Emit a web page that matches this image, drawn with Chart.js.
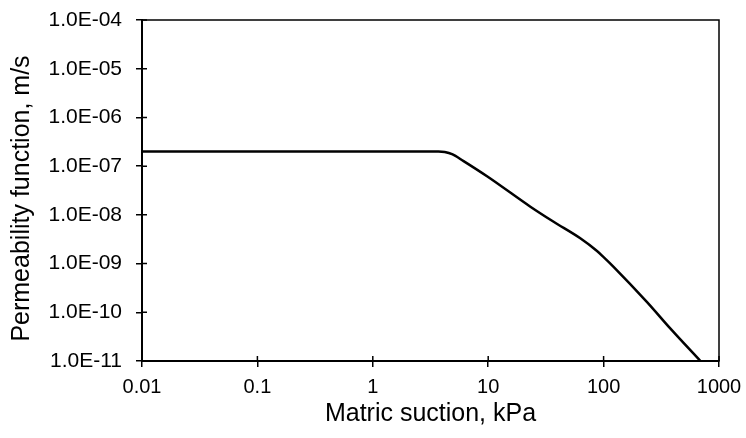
<!DOCTYPE html>
<html>
<head>
<meta charset="utf-8">
<script src="https://cdn.jsdelivr.net/npm/chart.js@4"></script>
<style>
  html, body { margin: 0; padding: 0; background: #fff; }
  #wrap { width: 746px; height: 438px; }
</style>
</head>
<body>
<div id="wrap"><canvas id="chart" width="746" height="438"></canvas></div>
<script>
// values
var suction = [0.01, 1, 3, 3.7, 4.2, 4.86, 6.12, 9.77, 23.2, 36.9, 62.8, 87.7, 100, 122, 238, 378, 690];
var permeability = [2.0e-7, 2.0e-7, 2.0e-7, 2.0e-7, 1.95e-7, 1.77e-7, 1.27e-7, 6.2e-8, 1.47e-8, 7.2e-9, 3.3e-9, 1.81e-9, 1.36e-9, 8.6e-10, 1.62e-10, 4.67e-11, 1.0e-11];

var xTicks = [0.01, 0.1, 1, 10, 100, 1000];
var xTickLabels = ['0.01', '0.1', '1', '10', '100', '1000'];
var yTicks = [1e-11, 1e-10, 1e-9, 1e-8, 1e-7, 1e-6, 1e-5, 1e-4];
var yTickLabels = ['1.0E-11', '1.0E-10', '1.0E-09', '1.0E-08', '1.0E-07', '1.0E-06', '1.0E-05', '1.0E-04'];
var xTitle = 'Matric suction, kPa';
var yTitle = 'Permeability function, m/s';

var FONT = "'Liberation Sans', Arial, sans-serif";

var points = suction.map(function (s, i) { return { x: s, y: permeability[i] }; });

// plot frame, inner half of each tick mark, rotated y title
var framePlugin = {
    id: 'frame',
    afterDraw: function (chart) {
        var ctx = chart.ctx, a = chart.chartArea;
        var xs = chart.scales.x, ys = chart.scales.y;
        ctx.save();
        ctx.strokeStyle = '#000';
        ctx.lineWidth = 1.5;
        ctx.strokeRect(a.left, a.top, a.right - a.left, a.bottom - a.top);
        ctx.beginPath();
        for (var i = 0; i < xs.ticks.length; i++) {
            var px = xs.getPixelForTick(i);
            ctx.moveTo(px, a.bottom); ctx.lineTo(px, a.bottom - 5);
        }
        for (var j = 0; j < ys.ticks.length; j++) {
            var py = ys.getPixelForTick(j);
            ctx.moveTo(a.left, py); ctx.lineTo(a.left + 5, py);
        }
        ctx.stroke();

        ctx.translate(28.5, (a.top + a.bottom) / 2 + 8);
        ctx.rotate(-Math.PI / 2);
        ctx.fillStyle = '#000';
        ctx.font = '25px ' + FONT;
        ctx.textAlign = 'center';
        ctx.textBaseline = 'alphabetic';
        ctx.fillText(yTitle, 0, 0);
        ctx.restore();
    }
};

new Chart(document.getElementById('chart'), {
    type: 'line',
    data: {
        datasets: [{
            data: points,
            borderColor: '#000',
            borderWidth: 2.5,
            pointRadius: 0,
            fill: false,
            cubicInterpolationMode: 'monotone'
        }]
    },
    options: {
        responsive: false,
        animation: false,
        layout: { padding: { left: 0, top: 20, right: 27, bottom: 0 } },
        plugins: { legend: { display: false }, tooltip: { enabled: false } },
        scales: {
            x: {
                type: 'logarithmic',
                min: 0.01, max: 1000,
                afterBuildTicks: function (scale) { scale.ticks = xTicks.map(function (v) { return { value: v }; }); },
                afterFit: function (scale) { scale.height = 77; scale.paddingLeft = 0; scale.paddingRight = 0; },
                ticks: {
                    color: '#000', padding: 8, maxRotation: 0, autoSkip: false,
                    font: { family: FONT, size: 20 },
                    callback: function (v, i) { return xTickLabels[i]; }
                },
                grid: { drawOnChartArea: false, tickLength: 6, color: '#000', lineWidth: 1.5 },
                border: { color: '#000', width: 2 },
                title: {
                    display: true, text: xTitle, color: '#000',
                    font: { family: FONT, size: 25 }, padding: { top: 0, bottom: 9 }
                }
            },
            y: {
                type: 'logarithmic',
                min: 1e-11, max: 1e-4,
                afterBuildTicks: function (scale) { scale.ticks = yTicks.map(function (v) { return { value: v }; }); },
                afterFit: function (scale) { scale.width = 142; scale.paddingTop = 0; scale.paddingBottom = 0; },
                ticks: {
                    color: '#000', padding: 14, autoSkip: false,
                    font: { family: FONT, size: 21 },
                    callback: function (v, i) { return yTickLabels[i]; }
                },
                grid: { drawOnChartArea: false, tickLength: 6, color: '#000', lineWidth: 1.5 },
                border: { color: '#000', width: 2 }
            }
        }
    },
    plugins: [framePlugin]
});
</script>
</body>
</html>
